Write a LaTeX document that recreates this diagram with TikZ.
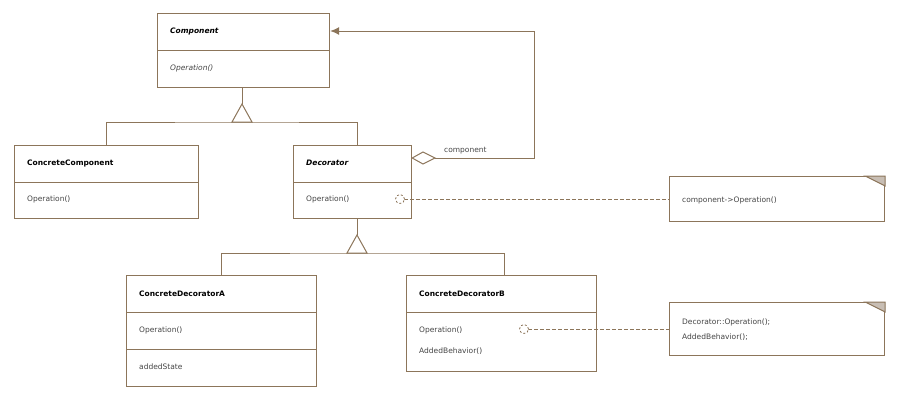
\documentclass[tikz,border=0pt]{standalone}
\usepackage{fontspec}
\setmainfont{DejaVu Sans}
\usetikzlibrary{arrows.meta,positioning}
\definecolor{umlline}{RGB}{140,117,90}
\definecolor{umltext}{RGB}{70,70,70}
\definecolor{umlfold}{RGB}{200,190,180}
\tikzset{
  box/.style={draw=umlline,line width=1.2pt,fill=white,anchor=north west,inner sep=0pt},
  sep/.style={draw=umlline,line width=1pt},
  title/.style={anchor=west,font=\fontsize{7.5}{9}\selectfont\bfseries,inner sep=0pt},
  member/.style={anchor=west,font=\fontsize{7.5}{9}\selectfont,text=umltext,inner sep=0pt},
  link/.style={draw=umlline,line width=1pt},
  dashlink/.style={draw=umlline,line width=0.8pt,dash pattern=on 4pt off 2pt},
  hook/.style={draw=umlline,line width=0.8pt,dash pattern=on 2pt off 2pt,fill=white}
}
\begin{document}
\begin{tikzpicture}[x=1pt,y=-1pt]
\useasboundingbox (0,0) rectangle (910,402);
% classes
\node[box,minimum width=172pt,minimum height=74pt] (comp) at (157,13) {};
\draw[sep] (157,50) -- (329,50);
\node[title,font=\fontsize{7.5}{9}\selectfont\bfseries\itshape] (compT) at (170,31) {Component};
\node[member,font=\fontsize{7.5}{9}\selectfont\itshape] (compO) at (170,68) {Operation()};

\node[box,minimum width=184pt,minimum height=73pt] (cc) at (14,145) {};
\draw[sep] (14,182) -- (198,182);
\node[title] (ccT) at (27,163) {ConcreteComponent};
\node[member] (ccO) at (27,199) {Operation()};

\node[box,minimum width=118pt,minimum height=73pt] (dec) at (293,145) {};
\draw[sep] (293,182) -- (411,182);
\node[title,font=\fontsize{7.5}{9}\selectfont\bfseries\itshape] (decT) at (306,163) {Decorator};
\node[member] (decO) at (306,199) {Operation()};

\node[box,minimum width=190pt,minimum height=111pt] (cda) at (126,275) {};
\draw[sep] (126,312) -- (316,312);
\draw[sep] (126,349) -- (316,349);
\node[title] (cdaT) at (139,294) {ConcreteDecoratorA};
\node[member] (cdaO) at (139,330) {Operation()};
\node[member] (cdaS) at (139,367) {addedState};

\node[box,minimum width=190pt,minimum height=96pt] (cdb) at (406,275) {};
\draw[sep] (406,312) -- (596,312);
\node[title] (cdbT) at (419,294) {ConcreteDecoratorB};
\node[member] (cdbO) at (419,330) {Operation()};
\node[member] (cdbA) at (419,351) {AddedBehavior()};

% notes
\node[box,minimum width=215pt,minimum height=45pt] (n1) at (669,176) {};
\node[member] (n1T) at (682,200) {component->Operation()};
\node[box,minimum width=215pt,minimum height=53pt] (n2) at (669,302) {};
\node[member] (n2T) at (682,322) {Decorator::Operation();};
\node[member] (n2U) at (682,337) {AddedBehavior();};
\foreach \n in {n1,n2}
  \draw[link,fill=umlfold] ([xshift=-20pt]\n.north east) -- (\n.north east) -- ([yshift=-10pt]\n.north east) -- cycle;

% generalisation
\coordinate (g1) at (242,104);
\draw[link] (comp.south -| g1) -- (g1);
\draw[link,fill=white] (g1) -- (252,122) -- (232,122) -- cycle;
\draw[link] (cc.north) |- (242,122) -| (dec.north west -| 357,0);
\coordinate (g2) at (357,235);
\draw[link] (dec.south -| g2) -- (g2);
\draw[link,fill=white] (g2) -- (367,253) -- (347,253) -- cycle;
\draw[link] (cda.north) |- (357,253) -| (cdb.north -| 504,0);

% aggregation
\coordinate (agg) at (435,158);
\draw[link,-{Latex[length=9pt,width=8pt]}] (agg) -| (534,31) -- (comp.east |- 0,31);
\draw[link,fill=white] (dec.east |- 0,158) -- (423,152) -- (agg) -- (423,164) -- cycle;
\node[member,anchor=south west] (aggL) at (444,154) {component};

% note links
\draw[dashlink] (404,199) -- (n1.west |- 0,199);
\draw[hook] (400,199) circle (4.5pt);
\draw[dashlink] (528,329) -- (n2.west |- 0,329);
\draw[hook] (524,329) circle (4.5pt);
\end{tikzpicture}
\end{document}
